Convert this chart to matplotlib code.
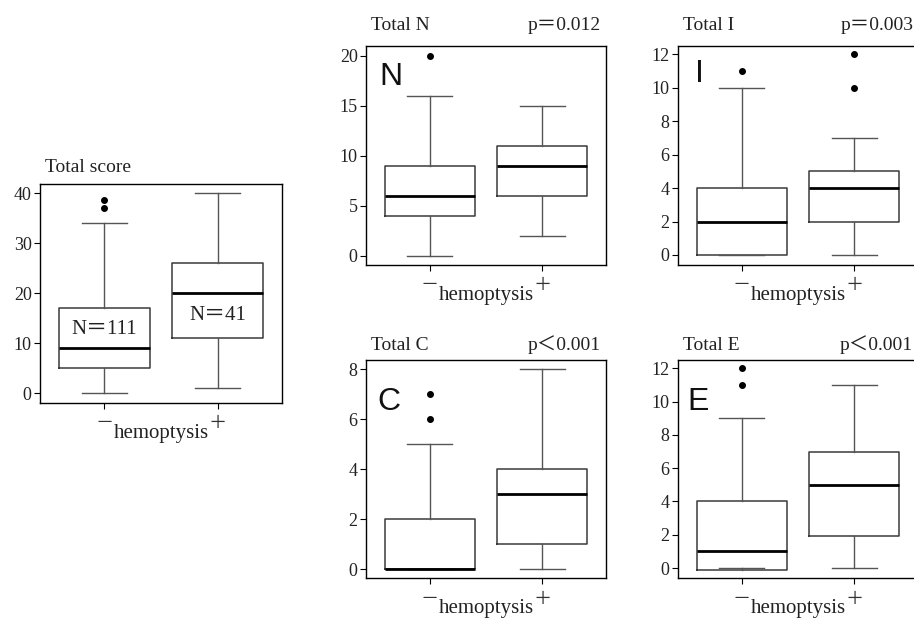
import numpy as np
import matplotlib.pyplot as plt

plt.rcParams['font.family'] = ['Liberation Serif', 'Noto Sans CJK JP']

# box statistics: (hemoptysis -, hemoptysis +)
groups = ['－', '＋']

score_whislo = [0, 1]
score_q1 = [5, 11]
score_med = [9, 20]
score_q3 = [17, 26]
score_whishi = [34, 40]
score_fliers = [[37, 38.5], []]

n_whislo = [0, 2]
n_q1 = [4, 6]
n_med = [6, 9]
n_q3 = [9, 11]
n_whishi = [16, 15]
n_fliers = [[20], []]

i_whislo = [0, 0]
i_q1 = [0, 2]
i_med = [2, 4]
i_q3 = [4, 5]
i_whishi = [10, 7]
i_fliers = [[11], [10, 12]]

c_whislo = [0, 0]
c_q1 = [0, 1]
c_med = [0, 3]
c_q3 = [2, 4]
c_whishi = [5, 8]
c_fliers = [[6, 7], []]

e_whislo = [0, 0]
e_q1 = [-0.1, 1.9]
e_med = [1, 5]
e_q3 = [4, 7]
e_whishi = [9, 11]
e_fliers = [[11, 12], []]

n_counts = ['N＝111', 'N＝41']
n_count_y = [12.6, 15.4]


def make_stats(lo, q1, med, q3, hi, fl):
    return [dict(whislo=lo[k], q1=q1[k], med=med[k], q3=q3[k], whishi=hi[k],
                 fliers=fl[k]) for k in range(2)]


fig = plt.figure(figsize=(9.14, 6.21), dpi=100)

W = 240 / 914
H = 219 / 621
ax_score = fig.add_axes([40 / 914, 1 - 403 / 621, 242 / 914, H])
ax_n = fig.add_axes([366 / 914, 1 - 265 / 621, W, H])
ax_i = fig.add_axes([678 / 914, 1 - 265 / 621, W, H])
ax_c = fig.add_axes([366 / 914, 1 - 578 / 621, W, 218 / 621])
ax_e = fig.add_axes([678 / 914, 1 - 578 / 621, W, 218 / 621])

panels = [
    (ax_score, make_stats(score_whislo, score_q1, score_med, score_q3, score_whishi, score_fliers),
     'Total score', None, None, np.arange(0, 41, 10), (-2, 41.8), 1.055, None),
    (ax_n, make_stats(n_whislo, n_q1, n_med, n_q3, n_whishi, n_fliers),
     'Total N', 'p＝0.012', 'N', np.arange(0, 21, 5), (-0.93, 20.97), 1.073, (0.056, 0.822)),
    (ax_i, make_stats(i_whislo, i_q1, i_med, i_q3, i_whishi, i_fliers),
     'Total I', 'p＝0.003', 'I', np.arange(0, 13, 2), (-0.6, 12.5), 1.073, (0.07, 0.835)),
    (ax_c, make_stats(c_whislo, c_q1, c_med, c_q3, c_whishi, c_fliers),
     'Total C', 'p＜0.001', 'C', np.arange(0, 9, 2), (-0.36, 8.36), 1.046, (0.048, 0.77)),
    (ax_e, make_stats(e_whislo, e_q1, e_med, e_q3, e_whishi, e_fliers),
     'Total E', 'p＜0.001', 'E', np.arange(0, 13, 2), (-0.6, 12.5), 1.046, (0.0375, 0.77)),
]

for ax, stats, title, pval, letter, yt, ylim, ty, lpos in panels:
    ax.bxp(stats, positions=[1, 2], widths=0.8, showfliers=True,
           boxprops=dict(color='#3a3a3a', linewidth=1.1),
           medianprops=dict(color='black', linewidth=2),
           whiskerprops=dict(color='#555555', linewidth=1.0),
           capprops=dict(color='#555555', linewidth=1.0),
           flierprops=dict(marker='o', markerfacecolor='black',
                           markeredgecolor='black', markersize=4))
    ax.set_xlim(0.43, 2.57)
    ax.set_ylim(*ylim)
    ax.set_yticks(yt)
    ax.set_xticks([1, 2])
    ax.set_xticklabels(groups, fontsize=13, color='#333333')
    ax.tick_params(axis='y', labelsize=13, length=4, width=0.8, pad=2,
                   labelcolor='#222222')
    ax.tick_params(axis='x', length=4, width=0.8, pad=5)
    ax.set_xlabel('hemoptysis', fontsize=15, labelpad=-6, color='#222222')
    for s in ax.spines.values():
        s.set_linewidth(1.0)
    ax.text(0.02, ty, title, transform=ax.transAxes, fontsize=14,
            ha='left', va='baseline', color='#222222')
    if pval:
        ax.text(0.98, ty, pval, transform=ax.transAxes, fontsize=14,
                ha='right', va='baseline', color='#222222')
    if letter:
        ax.text(lpos[0], lpos[1], letter, transform=ax.transAxes,
                fontsize=23, family='Liberation Sans', ha='left',
                va='baseline', color='#111111')

for k in range(2):
    ax_score.text(k + 1, n_count_y[k], n_counts[k], fontsize=15,
                  ha='center', va='center', color='#222222')

fig.savefig('out.png', dpi=100)
